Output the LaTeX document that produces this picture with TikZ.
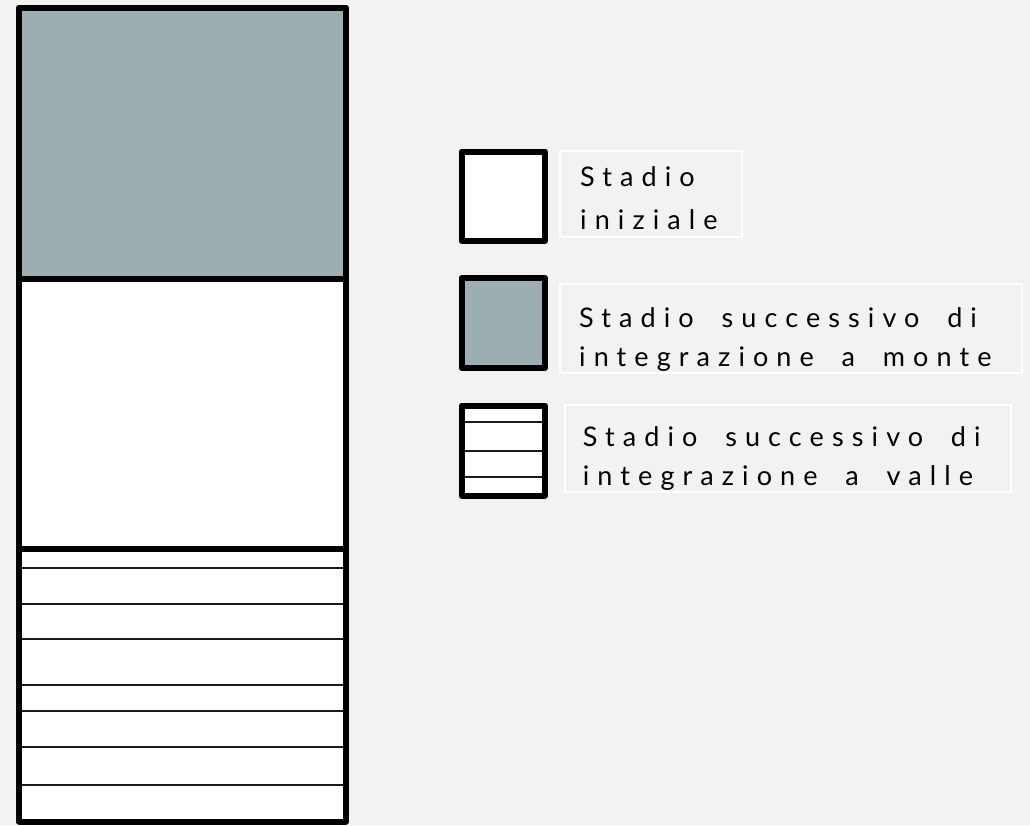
\documentclass[tikz,border=0pt]{standalone}
\usepackage{fontspec}
\setmainfont{Lato}
\newfontfamily\legfont[LetterSpace=30,WordSpace=1.85]{Lato}
\definecolor{bg}{HTML}{F2F2F2}
\definecolor{upgray}{HTML}{9DAEB3}
\begin{document}
\begin{tikzpicture}[x=1pt,y=-1pt,
  thickbox/.style={line width=6pt, line join=round, draw=black},
  thinrule/.style={line width=2pt, draw=black!90},
  labelbox/.style={draw=white, line width=2pt},
  legtext/.style={font=\legfont\fontsize{27}{40}\selectfont, anchor=base west, inner sep=0pt}]
\fill[bg] (0,0) rectangle (1030,825);
\useasboundingbox (0,0) rectangle (1030,825);
% main column
\fill[upgray] (19,7.5) rectangle (346,278.5);
\fill[white] (19,278.5) rectangle (346,821.5);
\foreach \y in {567.7,603.7,639.3,684.7,711.3,747,785.3}
  \draw[thinrule] (19,\y) -- (346,\y);
\draw[thickbox] (19,278.5) -- (346,278.5);
\draw[thickbox] (19,549) -- (346,549);
\draw[thickbox] (19,7.5) rectangle (346,821.5);
% legend swatches
\draw[thickbox, fill=white] (461.5,151.5) rectangle (545,241);
\draw[thickbox, fill=upgray] (461.5,278) rectangle (545,368);
\fill[white] (461.5,405.5) rectangle (545,495.5);
\foreach \y in {422.3,451,477.3}
  \draw[thinrule] (461.5,\y) -- (545,\y);
\draw[thickbox] (461.5,405.5) rectangle (545,495.5);
% legend labels
\draw[labelbox] (560,151) rectangle (742,236.7);
\node[legtext] (l1a) at (580,186.7) {Stadio};
\node[legtext] (l1b) at (580,229.5) {iniziale};
\draw[labelbox] (560,284) rectangle (1022,373);
\node[legtext] (l2a) at (579,327.7) {Stadio successivo di};
\node[legtext] (l2b) at (579,366.7) {integrazione a monte};
\draw[labelbox] (565,405) rectangle (1011,492);
\node[legtext] (l3a) at (582.7,446.7) {Stadio successivo di};
\node[legtext] (l3b) at (582.7,485) {integrazione a valle};
\end{tikzpicture}
\end{document}
